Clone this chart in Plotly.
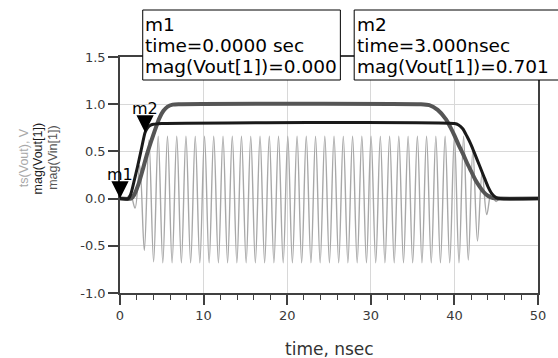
import plotly.graph_objects as go

# ---------------- data ----------------
# ts(Vout): carrier extremes (time in ns, volts)
osc_t = [0.0, 0.70,
         1.25, 1.80, 2.36, 2.91, 3.46, 4.02, 4.57, 5.12, 5.68, 6.23,
         6.79, 7.34, 7.89, 8.45, 9.00, 9.55, 10.11, 10.66, 11.21, 11.77,
         12.32, 12.87, 13.43, 13.98, 14.53, 15.09, 15.64, 16.19, 16.75, 17.30,
         17.86, 18.41, 18.96, 19.52, 20.07, 20.62, 21.18, 21.73, 22.28, 22.84,
         23.39, 23.94, 24.50, 25.05, 25.60, 26.16, 26.71, 27.26, 27.82, 28.37,
         28.93, 29.48, 30.03, 30.59, 31.14, 31.69, 32.25, 32.80, 33.35, 33.91,
         34.46, 35.01, 35.57, 36.12, 36.67, 37.23, 37.78, 38.33, 38.89, 39.44,
         40.00, 40.55, 41.10, 41.66, 42.21, 42.76, 43.32, 43.87, 44.42, 44.98, 45.53,
         46.10, 50.0]
osc_v = [0.0, 0.0,
         0.04, -0.10, 0.35, -0.55, 0.62, -0.67,
         0.66, -0.68, 0.66, -0.68, 0.66, -0.68, 0.66, -0.68, 0.66, -0.68,
         0.66, -0.68, 0.66, -0.68, 0.66, -0.68, 0.66, -0.68, 0.66, -0.68,
         0.66, -0.68, 0.66, -0.68, 0.66, -0.68, 0.66, -0.68, 0.66, -0.68,
         0.66, -0.68, 0.66, -0.68, 0.66, -0.68, 0.66, -0.68, 0.66, -0.68,
         0.66, -0.68, 0.66, -0.68, 0.66, -0.68, 0.66, -0.68, 0.66, -0.68,
         0.66, -0.68, 0.66, -0.68, 0.66, -0.68, 0.66, -0.68, 0.66, -0.68,
         0.66, -0.68, 0.66, -0.68, 0.66, -0.68, 0.66,
         -0.65, 0.52, -0.45, 0.28, -0.17, 0.07, -0.03, 0.01,
         0.0, 0.0]

# mag(Vin[1])
vin_t = [0.0, 1.3, 1.7, 2.2, 2.7, 3.2, 3.7, 4.2, 4.7, 5.2, 5.7, 6.3, 7.0,
         36.0, 37.0, 38.0, 39.0, 39.5, 40.0, 40.5, 41.0, 41.5, 42.0, 42.5,
         43.0, 43.5, 44.0, 44.6, 45.2, 50.0]
vin_v = [0.0, 0.0, 0.04, 0.15, 0.30, 0.46, 0.60, 0.73, 0.85, 0.93, 0.975, 0.995, 1.0,
         1.0, 0.99, 0.94, 0.84, 0.76, 0.67, 0.57, 0.48, 0.38, 0.29, 0.20,
         0.13, 0.07, 0.03, 0.005, 0.0, 0.0]

# mag(Vout[1])
vout_t = [0.0, 1.0, 1.3, 1.7, 2.1, 2.5, 3.0, 3.3, 3.6, 4.0, 4.5, 5.0,
          40.0, 40.5, 41.0, 41.5, 42.0, 42.5, 43.0, 43.5, 44.0, 44.5, 45.0, 45.5, 50.0]
vout_v = [0.0, 0.0, 0.05, 0.19, 0.34, 0.50, 0.70, 0.75, 0.775, 0.787, 0.792, 0.795,
          0.795, 0.78, 0.74, 0.66, 0.57, 0.46, 0.35, 0.24, 0.13, 0.05, 0.01, 0.0, 0.0]

# markers
mk_names = ["m1", "m2"]
mk_t = [0.0, 3.0]
mk_v = [0.0, 0.701]
mk_lines = [["m1", "time=0.0000 sec", "mag(Vout[1])=0.000"],
            ["m2", "time=3.000nsec", "mag(Vout[1])=0.701"]]

y_ticks = [-1.0, -0.5, 0.0, 0.5, 1.0, 1.5]
y_ticktext = ["-1.0", "-0.5", "0.0", "0.5", "1.0", "1.5"]
x_ticks = [0, 10, 20, 30, 40, 50]
y_title_lines = ["ts(Vout), V", "mag(Vout[1])", "mag(Vin[1])"]
x_title = "time, nsec"

# ---------------- layout geometry (pixels) ----------------
W, H = 558, 358
L, R, T, B = 120, 15, 57, 65
PW, PH = W - L - R, H - T - B


def px2x(p):
    return (p - L) / PW


def py2y(p):
    return (H - B - p) / PH


C_OSC, C_VIN, C_VOUT = "#a8a8a8", "#555555", "#1a1a1a"

fig = go.Figure()
fig.add_trace(go.Scatter(x=osc_t, y=osc_v, mode="lines",
                         line=dict(color=C_OSC, width=1.4, shape="spline", smoothing=1.0),
                         hoverinfo="skip"))
fig.add_trace(go.Scatter(x=vin_t, y=vin_v, mode="lines",
                         line=dict(color=C_VIN, width=4, shape="spline", smoothing=0.6),
                         hoverinfo="skip"))
fig.add_trace(go.Scatter(x=vout_t, y=vout_v, mode="lines",
                         line=dict(color=C_VOUT, width=3, shape="spline", smoothing=0.6),
                         hoverinfo="skip"))

tickfont = dict(family="DejaVu Sans", size=13, color="#3a3a3a")
fig.update_xaxes(range=[0, 50], tickvals=x_ticks, ticks="outside", ticklen=10,
                 tickwidth=1.5, tickcolor="#404040",
                 minor=dict(dtick=2, tick0=0, ticks="outside", ticklen=5,
                            tickcolor="#404040", tickwidth=1.2, showgrid=False),
                 showgrid=True, gridcolor="#d8d8d8", gridwidth=1,
                 showline=True, mirror=True, linecolor="#404040", linewidth=1.5,
                 zeroline=False, tickfont=tickfont)
fig.update_yaxes(range=[-1.0, 1.5], tickvals=y_ticks, ticktext=y_ticktext,
                 ticks="outside", ticklen=10, tickwidth=1.5, tickcolor="#404040",
                 showgrid=True, gridcolor="#d8d8d8", gridwidth=1,
                 showline=True, mirror=True, linecolor="#404040", linewidth=1.5,
                 zeroline=False, tickfont=tickfont)

annotations = []
shapes = []

# marker triangles + labels
for name, t, v in zip(mk_names, mk_t, mk_v):
    annotations.append(dict(x=t, y=v, xref="x", yref="y", text=name,
                            showarrow=True, arrowhead=2, arrowsize=3, arrowwidth=1.15,
                            arrowcolor="#000000", ax=0, ay=-24, standoff=0,
                            font=dict(family="DejaVu Sans", size=16, color="#000000")))

# readout boxes
box_px = [(143, 343), (357, 575)]
for (bx0, bx1), lines in zip(box_px, mk_lines):
    shapes.append(dict(type="rect", xref="paper", yref="paper",
                       x0=px2x(bx0), x1=px2x(bx1), y0=py2y(80), y1=py2y(10),
                       fillcolor="white", line=dict(color="#000000", width=1),
                       layer="above"))
    for txt, cy in zip(lines, [24.5, 46, 66.5]):
        annotations.append(dict(x=px2x(bx0 + 0.5), y=py2y(cy), xref="paper", yref="paper",
                                text=txt, showarrow=False, xanchor="left", yanchor="middle",
                                font=dict(family="DejaVu Sans", size=18.5, color="#000000")))

# y-axis title (three coloured lines)
for txt, col, cx in zip(y_title_lines, [C_OSC, C_VOUT, C_VIN], [23, 37.5, 52]):
    annotations.append(dict(x=px2x(cx), y=py2y(158), xref="paper", yref="paper",
                            text=txt, showarrow=False, textangle=-90,
                            xanchor="center", yanchor="middle",
                            font=dict(family="Liberation Sans", size=12.5, color=col)))
# x-axis title
annotations.append(dict(x=px2x(332), y=py2y(349), xref="paper", yref="paper",
                        text=x_title, showarrow=False,
                        xanchor="center", yanchor="middle",
                        font=dict(family="DejaVu Sans", size=17, color="#333333")))

fig.update_layout(width=W, height=H, margin=dict(l=L, r=R, t=T, b=B),
                  paper_bgcolor="white", plot_bgcolor="white",
                  showlegend=False, annotations=annotations, shapes=shapes)

fig.write_html("out.html")
